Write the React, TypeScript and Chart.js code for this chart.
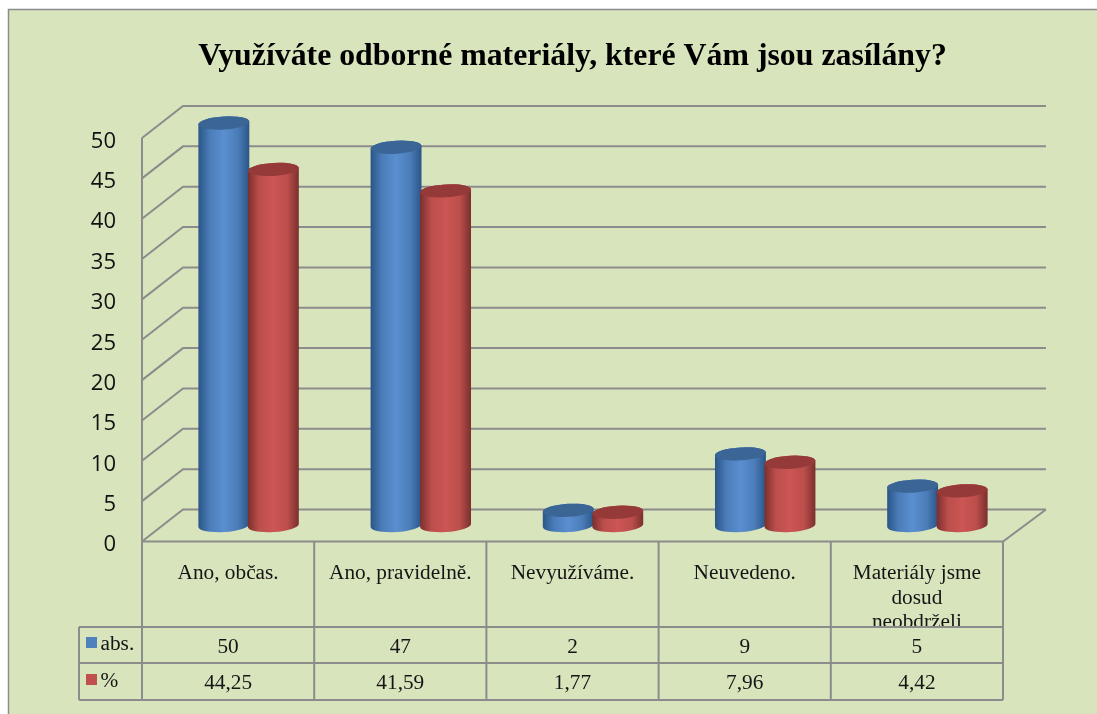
import React, { useEffect, useRef } from "react";
import { Chart, registerables } from "chart.js";

Chart.register(...registerables);

const titleText = "Využíváte odborné materiály, které Vám jsou zasílány?";
const categories = [
  ["Ano, občas."],
  ["Ano, pravidelně."],
  ["Nevyužíváme."],
  ["Neuvedeno."],
  ["Materiály jsme", "dosud", "neobdrželi"],
];
const absValues = [50, 47, 2, 9, 5];
const pctValues = [44.25, 41.59, 1.77, 7.96, 4.42];
const seriesNames = ["abs.", "%"];
const absLabels = ["50", "47", "2", "9", "5"];
const pctLabels = ["44,25", "41,59", "1,77", "7,96", "4,42"];

const PANEL = "#d8e4bc";
const LINE = "#8c8c8c";
const SERIF = '"Liberation Serif", serif';
const DEPTH_X = 41;
const DEPTH_X_RIGHT = 43;
const DEPTH_Y = 32;
const TILT = -0.06;
const RY = 6.5;
const TICK_SHIFT = 3.5;

const palettes = [
  { key: "#4f81bd", edge: "#2a5587", mid: "#4a7cb8", bright: "#5a8fd0", top: "#3a6595" },
  { key: "#c0504d", edge: "#7a2f2e", mid: "#bb4e4b", bright: "#cc5654", top: "#953a38" },
];

function drawCylinder(ctx: CanvasRenderingContext2D, cx: number, rx: number, ty: number, by: number, p: typeof palettes[0]) {
  const g = ctx.createLinearGradient(cx - rx, 0, cx + rx, 0);
  g.addColorStop(0, p.edge);
  g.addColorStop(0.22, p.mid);
  g.addColorStop(0.5, p.bright);
  g.addColorStop(0.78, p.mid);
  g.addColorStop(1, p.edge);
  ctx.beginPath();
  ctx.ellipse(cx, by, rx, RY, TILT, 0, Math.PI);
  ctx.ellipse(cx, ty, rx, RY, TILT, Math.PI, 0);
  ctx.closePath();
  ctx.fillStyle = g;
  ctx.fill();
  ctx.beginPath();
  ctx.ellipse(cx, ty, rx, RY, TILT, 0, Math.PI * 2);
  ctx.fillStyle = p.top;
  ctx.fill();
}

const stage = {
  id: "stage",
  beforeDraw(chart: any) {
    const ctx = chart.ctx;
    ctx.save();
    ctx.fillStyle = "#ffffff";
    ctx.fillRect(0, 0, chart.width, chart.height);
    ctx.fillStyle = PANEL;
    ctx.fillRect(8, 9, chart.width, chart.height);
    ctx.strokeStyle = LINE;
    ctx.lineWidth = 1.5;
    ctx.beginPath();
    ctx.moveTo(8.5, chart.height);
    ctx.lineTo(8.5, 9.5);
    ctx.lineTo(chart.width, 9.5);
    ctx.stroke();
    ctx.restore();
    // value labels sit a little below their grid lines in the reference
    chart.scales.y.getLabelItems().forEach((it: any) => {
      if (!it.shifted) {
        it.options.translation[1] += TICK_SHIFT;
        it.shifted = true;
      }
    });
  },
  beforeDatasetsDraw(chart: any) {
    const { ctx, chartArea: a, scales } = chart;
    const y = scales.y;
    ctx.save();
    ctx.strokeStyle = LINE;
    ctx.lineWidth = 2;
    ctx.beginPath();
    y.ticks.forEach((t: any) => {
      const py = y.getPixelForValue(t.value);
      ctx.moveTo(a.left, py);
      ctx.lineTo(a.left + DEPTH_X, py - DEPTH_Y);
      ctx.lineTo(a.right + DEPTH_X_RIGHT, py - DEPTH_Y);
    });
    ctx.moveTo(a.left, a.top);
    ctx.lineTo(a.left, a.bottom);
    ctx.lineTo(a.right, a.bottom);
    ctx.lineTo(a.right + DEPTH_X_RIGHT, a.bottom - DEPTH_Y);
    ctx.stroke();
    ctx.restore();
  },
  afterDatasetsDraw(chart: any) {
    const ctx = chart.ctx;
    categories.forEach((_, i) => {
      chart.data.datasets.forEach((_d: any, ds: number) => {
        const bar = chart.getDatasetMeta(ds).data[i];
        const cx = bar.x + DEPTH_X / 2;
        const rx = (bar.width + 1.5) / 2;
        drawCylinder(ctx, cx, rx, bar.y - DEPTH_Y / 2 + 1, bar.base - DEPTH_Y / 2, palettes[ds]);
      });
    });
  },
  afterDraw(chart: any) {
    const { ctx, chartArea: a, scales } = chart;
    const x = scales.x;
    const rowTop = 627;
    const rowMid = 663;
    const rowEnd = 700;
    const tableLeft = 79;
    ctx.save();
    // the third line of the long label is cut by the rows below
    ctx.fillStyle = PANEL;
    ctx.fillRect(tableLeft, rowTop, a.right - tableLeft + 2, rowEnd - rowTop);
    ctx.strokeStyle = LINE;
    ctx.lineWidth = 2;
    ctx.beginPath();
    const step = x.getPixelForValue(1) - x.getPixelForValue(0);
    categories.forEach((_, i) => {
      const bx = x.getPixelForValue(i) - step / 2;
      ctx.moveTo(bx, a.bottom);
      ctx.lineTo(bx, rowEnd);
    });
    ctx.moveTo(a.right, a.bottom);
    ctx.lineTo(a.right, rowEnd);
    [rowTop, rowMid, rowEnd].forEach((ry) => {
      ctx.moveTo(tableLeft, ry);
      ctx.lineTo(a.right, ry);
    });
    ctx.moveTo(tableLeft, rowTop);
    ctx.lineTo(tableLeft, rowEnd);
    ctx.stroke();

    ctx.font = `21.3px ${SERIF}`;
    ctx.fillStyle = "#151515";
    ctx.textBaseline = "alphabetic";
    ctx.textAlign = "center";
    categories.forEach((_, i) => {
      const cx = x.getPixelForValue(i);
      ctx.fillText(absLabels[i], cx, 652.5);
      ctx.fillText(pctLabels[i], cx, 689);
    });
    ctx.textAlign = "left";
    ctx.fillText(seriesNames[0], 100.5, 650);
    ctx.fillText(seriesNames[1], 100.5, 687);
    ctx.fillStyle = palettes[0].key;
    ctx.fillRect(86, 637, 11, 11);
    ctx.fillStyle = palettes[1].key;
    ctx.fillRect(86, 674, 11, 11);
    ctx.restore();
  },
};

export default function App() {
  const ref = useRef<HTMLCanvasElement>(null);
  useEffect(() => {
    const chart = new Chart(ref.current as HTMLCanvasElement, {
      type: "bar",
      data: {
        labels: categories as any,
        datasets: [
          { label: seriesNames[0], data: absValues, backgroundColor: "transparent" },
          { label: seriesNames[1], data: pctValues, backgroundColor: "transparent" },
        ],
      },
      plugins: [stage],
      options: {
        responsive: false,
        animation: false,
        layout: { autoPadding: false, padding: { left: 0, right: 94, top: 0, bottom: 0 } },
        datasets: { bar: { barPercentage: 1, categoryPercentage: 0.575 } },
        plugins: {
          legend: { display: false },
          tooltip: { enabled: false },
          title: {
            display: true,
            text: titleText,
            fullSize: false,
            color: "#000000",
            font: { family: SERIF, size: 31.8, weight: "bold", lineHeight: 1.2 },
            padding: { top: 37.5, bottom: 62.34 },
          },
        },
        scales: {
          x: {
            grid: { display: false },
            border: { display: false },
            afterFit: (s: any) => {
              s.height = 172.5;
            },
            ticks: {
              autoSkip: false,
              maxRotation: 0,
              minRotation: 0,
              padding: 12,
              color: "#151515",
              font: { family: SERIF, size: 21.3, lineHeight: 1.15 },
            },
          },
          y: {
            min: 0,
            max: 50,
            grid: { display: false },
            border: { display: false },
            afterFit: (s: any) => {
              s.width = 142;
            },
            ticks: {
              stepSize: 5,
              padding: 18,
              color: "#111111",
              font: { family: '"Open Sans", sans-serif', size: 22 },
            },
          },
        },
      },
    } as any);
    return () => chart.destroy();
  }, []);
  return (
    <canvas
      ref={ref}
      width={1097}
      height={714}
      style={{ position: "absolute", left: 0, top: 0, display: "block" }}
    />
  );
}
